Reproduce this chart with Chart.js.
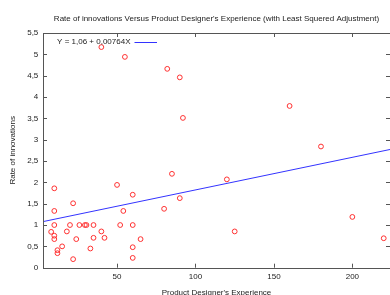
<!DOCTYPE html>
<html>
<head>
<meta charset="utf-8">
<script src="https://cdn.jsdelivr.net/npm/chart.js@4/dist/chart.umd.min.js"></script>
<style>
  html, body { margin: 0; padding: 0; background: #fff; overflow: hidden; }
  canvas { display: block; }
</style>
</head>
<body>
<canvas id="c" width="395" height="300"></canvas>
<script>
// ---- data ----
const chartTitle = "Rate of innovations Versus Product Designer's Experience (with Least Squered Adjustment)";
const xAxisTitle = "Product Designer's Experience";
const yAxisTitle = "Rate of innovations";
const fitLabel = "Y = 1,06 + 0,00764X";

const experience = [10, 10, 22, 50, 10, 20, 26, 29.5, 30.5, 35, 52, 8, 18, 10, 10, 24, 35, 40, 42, 15, 12, 12, 33, 22,
                    60, 85, 90, 54, 80, 60, 65, 60, 60, 40, 55, 82, 90, 92, 160, 180, 120, 125, 200, 220];
const innovationRate = [1.86, 1.33, 1.51, 1.94, 1.0, 1.0, 1.0, 1.0, 1.0, 1.0, 1.0, 0.84, 0.85, 0.75, 0.67, 0.67, 0.70, 0.85, 0.70, 0.50, 0.41, 0.34, 0.45, 0.20,
                    1.71, 2.20, 1.63, 1.33, 1.38, 1.0, 0.67, 0.48, 0.23, 5.17, 4.94, 4.66, 4.46, 3.51, 3.79, 2.84, 2.07, 0.85, 1.19, 0.69];
const fitX = [2.8, 224];
const fitY = [1.08, 2.77];
const xTicks = [50, 100, 150, 200];
const yTicks = [0, 0.5, 1, 1.5, 2, 2.5, 3, 3.5, 4, 4.5, 5, 5.5];

const FONT = "'Liberation Sans', Arial, sans-serif";
const TEXT = '#222';

const framePlugin = {
  id: 'frame',
  afterDatasetsDraw(chart) {
    const {ctx, chartArea: a, scales: {x, y}} = chart;
    ctx.save();
    ctx.strokeStyle = '#555';
    ctx.lineWidth = 1;
    ctx.beginPath();
    xTicks.forEach(v => {
      const p = Math.round(x.getPixelForValue(v)) + 0.5;
      ctx.moveTo(p, a.bottom); ctx.lineTo(p, a.bottom - 4);
      ctx.moveTo(p, a.top); ctx.lineTo(p, a.top + 4);
    });
    yTicks.forEach(v => {
      const p = Math.round(y.getPixelForValue(v)) + 0.5;
      ctx.moveTo(a.left, p); ctx.lineTo(a.left + 4, p);
      ctx.moveTo(a.right, p); ctx.lineTo(a.right - 4, p);
    });
    ctx.stroke();
    ctx.strokeRect(Math.round(a.left) + 0.5, Math.round(a.top) + 0.5, Math.round(a.right - a.left), Math.round(a.bottom - a.top));
    // key (gnuplot-style: text then line sample)
    const ky = a.top + 8.5;
    ctx.font = "8px " + FONT;
    ctx.fillStyle = TEXT;
    ctx.textAlign = 'right';
    ctx.textBaseline = 'middle';
    ctx.fillText(fitLabel, a.left + 87.5, ky);
    ctx.strokeStyle = '#3333ff';
    ctx.beginPath();
    ctx.moveTo(a.left + 91.5, Math.round(ky) + 0.5);
    ctx.lineTo(a.left + 114, Math.round(ky) + 0.5);
    ctx.stroke();
    ctx.restore();
  }
};

new Chart(document.getElementById('c'), {
  type: 'scatter',
  data: {
    datasets: [
      {
        type: 'line',
        data: fitX.map((v, i) => ({x: v, y: fitY[i]})),
        borderColor: '#3333ff',
        borderWidth: 1,
        pointRadius: 0,
        fill: false
      },
      {
        data: experience.map((v, i) => ({x: v, y: innovationRate[i]})),
        pointStyle: 'circle',
        pointRadius: 2.4,
        borderColor: '#ff3030',
        backgroundColor: 'rgba(0,0,0,0)',
        borderWidth: 1
      }
    ]
  },
  options: {
    responsive: false,
    animation: false,
    layout: { padding: 0 },
    plugins: {
      legend: { display: false },
      tooltip: { enabled: false },
      title: {
        display: true,
        text: chartTitle,
        fullSize: false,
        color: TEXT,
        font: { family: FONT, size: 8, weight: 'normal' },
        padding: { top: 13.5, bottom: 9.9 }
      }
    },
    scales: {
      x: {
        type: 'linear',
        min: 2.8,
        max: 224,
        afterBuildTicks: s => { s.ticks = xTicks.map(v => ({value: v})); },
        afterFit: s => { s.height = 32.3; },
        grid: { display: false, drawTicks: false },
        border: { display: false },
        ticks: { color: TEXT, font: { family: FONT, size: 8 }, padding: 4.5, maxRotation: 0 },
        title: { display: true, text: xAxisTitle, color: TEXT, font: { family: FONT, size: 8 }, padding: { top: 0, bottom: 2.9 } }
      },
      y: {
        min: 0,
        max: 5.5,
        afterBuildTicks: s => { s.ticks = yTicks.map(v => ({value: v})); },
        afterFit: s => { s.width = 43; },
        grid: { display: false, drawTicks: false },
        border: { display: false },
        ticks: { color: TEXT, font: { family: FONT, size: 8 }, padding: 4.7,
                 callback: v => String(v).replace('.', ',') },
        title: { display: true, text: yAxisTitle, color: TEXT, font: { family: FONT, size: 8 }, padding: { top: 7.9, bottom: 0 } }
      }
    }
  },
  plugins: [framePlugin]
});
</script>
</body>
</html>
